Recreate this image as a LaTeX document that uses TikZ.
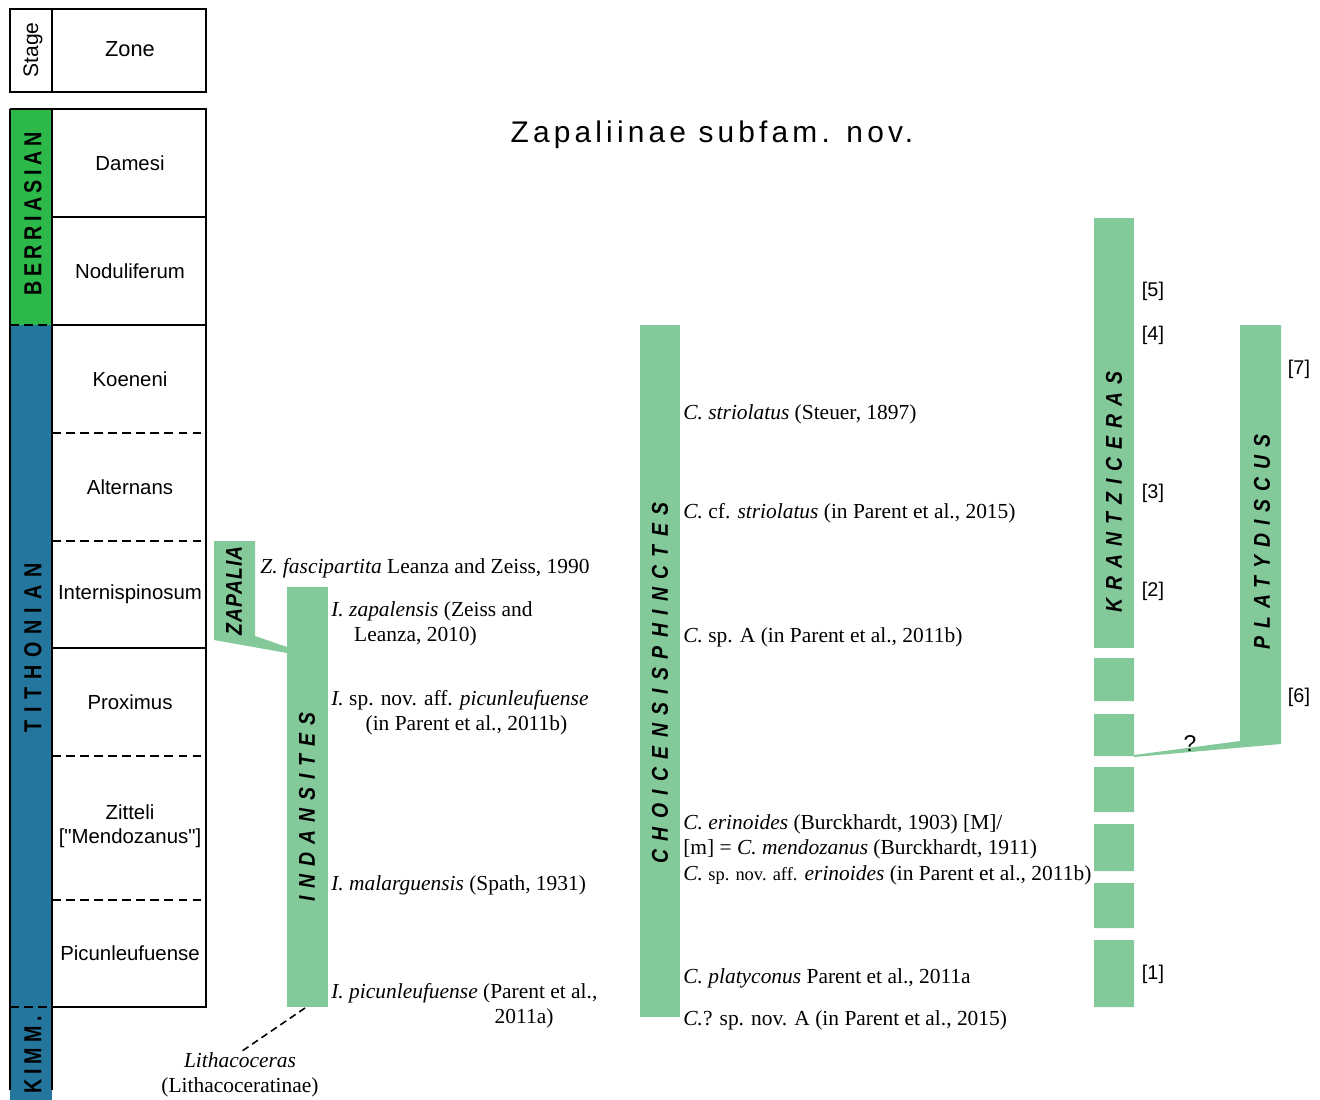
\documentclass[tikz,border=0pt]{standalone}
\usepackage{fontspec}
\setmainfont{Liberation Serif}
\setsansfont{Liberation Sans}
\newfontfamily\plainsans{Liberation Sans}
\usetikzlibrary{positioning}
\definecolor{berrgreen}{RGB}{45,184,74}
\definecolor{tithblue}{RGB}{36,118,156}
\definecolor{taxgreen}{RGB}{132,201,154}
\newcommand{\taxfont}{\fontsize{12.2}{14.2}\selectfont}
\tikzset{
  zonelab/.style={font=\sffamily\fontsize{11.6}{13.4}\selectfont,align=center,inner sep=0pt},
  stagelab/.style={rotate=90,xscale=0.8,inner sep=0pt,font=\sffamily\bfseries\fontsize{14}{16}\selectfont\addfontfeatures{LetterSpace=#1}},
  genuslab/.style={rotate=90,xscale=0.85,inner sep=0pt,font=\sffamily\bfseries\itshape\fontsize{13}{15}\selectfont\addfontfeatures{LetterSpace=#1}},
  genuslab/.default=41,
  splab/.style={anchor=west,inner sep=0pt,align=left,font=\taxfont},
  reflab/.style={inner sep=0pt,font=\sffamily\fontsize{11.3}{13}\selectfont},
  taxbar/.style={fill=taxgreen},
  solidline/.style={line width=1.2pt},
  dashline/.style={line width=1.2pt,dash pattern=on 5pt off 3pt}
}

\begin{document}
\begin{tikzpicture}[x=0.02cm,y=-0.02cm]
\useasboundingbox (0,0) rectangle (1320,1100);

% stage and zone column
\draw[solidline] (10,9) rectangle (206,92);
\draw[solidline] (52,9) -- (52,92);
\node[rotate=90,inner sep=0pt,font=\sffamily\fontsize{12}{14}\selectfont] (stagehd) at (33,50) {Stage};
\node[zonelab,font=\sffamily\fontsize{12.4}{14}\selectfont] (zonehd) at (130,49) {Zone};

\fill[berrgreen] (10,109) rectangle (52,325);
\fill[tithblue] (10,325) rectangle (52,1100);
\draw[solidline] (10,109) -- (206,109) -- (206,1007) -- (52,1007);
\draw[solidline] (10,109) -- (10,1090);
\draw[solidline] (52,109) -- (52,1090);
\draw[solidline] (52,217) -- (206,217);
\draw[solidline] (52,325) -- (206,325);
\draw[solidline] (52,648) -- (206,648);
\draw[dashline] (52,433) -- (206,433);
\draw[dashline] (52,541) -- (206,541);
\draw[dashline] (52,756) -- (206,756);
\draw[dashline] (52,900) -- (206,900);
\draw[dashline] (10,325) -- (52,325);
\draw[dashline] (10,1007) -- (52,1007);

\node[stagelab=23] (berr) at (33,214) {BERRIASIAN};
\node[stagelab=39] (tith) at (33,648) {TITHONIAN};
\node[stagelab=25] (kimm) at (33,1055) {KIMM.};

\node[zonelab] (damesi) at (130,163) {Damesi};
\node[zonelab] (nodul) at (130,271) {Noduliferum};
\node[zonelab] (koeneni) at (130,379) {Koeneni};
\node[zonelab] (altern) at (130,487) {Alternans};
\node[zonelab] (internis) at (130,594) {Internispinosum};
\node[zonelab] (proximus) at (130,702) {Proximus};
\node[zonelab,font=\plainsans\fontsize{11.6}{13.4}\selectfont] (zitteli) at (130,826) {Zitteli\\{[}"Mendozanus"{]}};
\node[zonelab] (picun) at (130,953) {Picunleufuense};

\node[font=\sffamily\fontsize{17}{20}\selectfont\addfontfeatures{LetterSpace=14}] (title) at (712,135) {Zapaliinae subfam. nov.};

% ranges
\fill[taxbar] (214,541) -- (255,541) -- (255,636) -- (287,647) -- (287,653) -- (214,640) -- cycle;
\fill[taxbar] (287,587) rectangle (328,1007);
\fill[taxbar] (640,325) rectangle (680,1017);
\fill[taxbar] (1094,218) rectangle (1134,648);
\fill[taxbar] (1094,658) rectangle (1134,701) (1094,714) rectangle (1134,756)
  (1094,767) rectangle (1134,812) (1094,824) rectangle (1134,871)
  (1094,883) rectangle (1134,928) (1094,940) rectangle (1134,1007);
\fill[taxbar] (1240,325) -- (1281,325) -- (1281,744) -- (1134,757) -- (1134,755) -- (1240,741) -- cycle;

\node[genuslab=6] (zapalia) at (234,591) {ZAPALIA};
\node[genuslab] (indans) at (307,807) {INDANSITES};
\node[genuslab=43] (choic) at (660,683) {CHOICENSISPHINCTES};
\node[genuslab] (krantz) at (1114,492) {KRANTZICERAS};
\node[genuslab] (platyd) at (1262,542) {PLATYDISCUS};

\node[splab] (zfasc) at (260,568) {\textit{Z. fascipartita} Leanza and Zeiss, 1990};
\node[splab] (izapal) at (331,624) {\textit{I. zapalensis} (Zeiss and\\\hspace*{13pt}Leanza, 2010)};
\node[splab] (iaff) at (331,713) {\textit{I.} sp. nov. aff. \textit{picunleufuense}\\\hspace*{19.5pt}(in Parent et al., 2011b)};
\node[splab] (imalar) at (331,885) {\textit{I. malarguensis} (Spath, 1931)};
\node[splab] (ipicun) at (331,1006) {\textit{I. picunleufuense} (Parent et al.,\\\hspace*{93pt}2011a)};

\node[align=center,inner sep=0pt,font=\taxfont] (lith) at (240,1075) {\textit{Lithacoceras}\\(Lithacoceratinae)};
\coordinate (indbot) at (305,1008);
\draw[dashline,line width=0.9pt,dash pattern=on 4pt off 2.5pt] (indbot) -- (lith.north);

\node[splab] (cstrio) at (683,414) {\textit{C. striolatus} (Steuer, 1897)};
\node[splab] (ccf) at (683,513) {\textit{C.} cf. \textit{striolatus} (in Parent et al., 2015)};
\node[splab] (cspa) at (683,637) {\textit{C.} sp. A (in Parent et al., 2011b)};
\node[splab] (ceri) at (683,850) {\textit{C. erinoides} (Burckhardt, 1903) [M]/\\{[}m{]} = \textit{C. mendozanus} (Burckhardt, 1911)\\[1pt]
  \textit{C.} {\fontsize{10.5}{12}\selectfont sp. nov. aff.} \textit{erinoides} (in Parent et al., 2011b)};
\node[splab] (cplat) at (683,978) {\textit{C. platyconus} Parent et al., 2011a};
\node[splab] (cnova) at (683,1020) {\textit{C.}? sp. nov. A (in Parent et al., 2015)};

\node[reflab] (r5) at (1153,291) {[5]};
\node[reflab] (r4) at (1153,335) {[4]};
\node[reflab] (r3) at (1153,493) {[3]};
\node[reflab] (r2) at (1153,591) {[2]};
\node[reflab] (r1) at (1153,974) {[1]};
\node[reflab] (r7) at (1299,369) {[7]};
\node[reflab] (r6) at (1299,697) {[6]};
\node[reflab,font=\sffamily\fontsize{13}{15}\selectfont] (qmark) at (1190,744) {?};
\end{tikzpicture}
\end{document}
